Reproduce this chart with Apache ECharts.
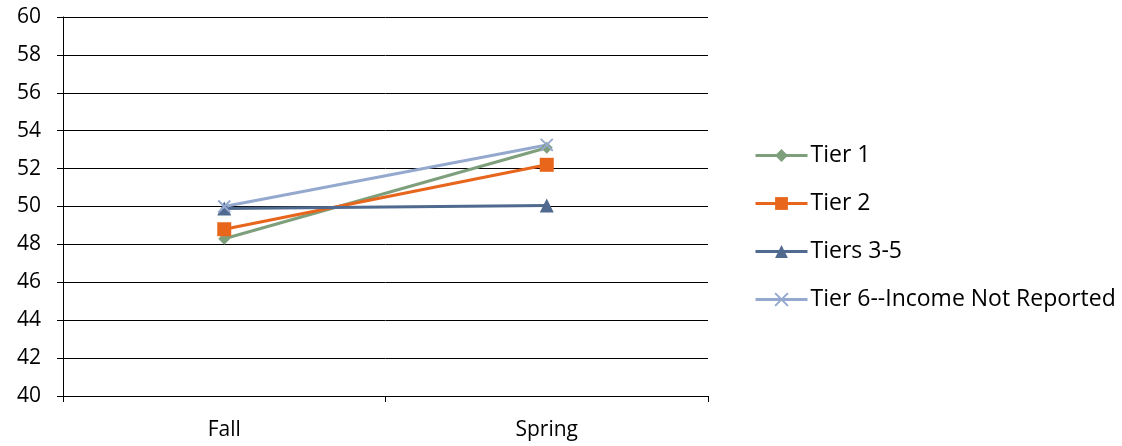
<!DOCTYPE html>
<html><head><meta charset="utf-8">
<script src="https://cdn.jsdelivr.net/npm/echarts@6/dist/echarts.min.js"></script>
<style>html,body{margin:0;padding:0;background:#fff}#c{width:1122px;height:446px}</style>
</head><body><div id="c"></div>
<script>
const categories = ['Fall', 'Spring'];
const seriesNames = ['Tier 1', 'Tier 2', 'Tiers 3-5', 'Tier 6--Income Not Reported'];
const tier1 = [48.3, 53.1];
const tier2 = [48.8, 52.2];
const tiers35 = [49.9, 50.05];
const tier6 = [50.0, 53.25];
const yTicks = [40, 42, 44, 46, 48, 50, 52, 54, 56, 58, 60];

const FONT = '"Open Sans", sans-serif';
const colors = ['#7E9F7C', '#E8661C', '#4F6A8E', '#95A9CF'];
const crossPath = 'path://M0,0L10,10M10,0L0,10';

const chart = echarts.init(document.getElementById('c'));
function mk(name, data, color, symbol, size, extra) {
  return Object.assign({
    name: name, type: 'line', data: data, symbol: symbol, symbolSize: size,
    showSymbol: true, animation: false,
    lineStyle: { color: color, width: 3 },
    itemStyle: { color: color },
    emphasis: { disabled: true }
  }, extra || {});
}
chart.setOption({
  animation: false,
  grid: { left: 63, right: 414, top: 17, bottom: 50, containLabel: false },
  legend: {
    orient: 'vertical', left: 749, top: 139,
    itemWidth: 52, itemHeight: 16, itemGap: 25,
    lineStyle: { width: 3 },
    textStyle: { fontFamily: FONT, fontSize: 23, color: '#000', padding: [0, 0, 0, -2] },
    data: seriesNames
  },
  xAxis: {
    type: 'category', data: categories, boundaryGap: true,
    axisLine: { lineStyle: { color: '#000', width: 1 } },
    axisTick: { show: true, length: 6, lineStyle: { color: '#000' }, alignWithLabel: false },
    axisLabel: { fontFamily: FONT, fontSize: 21, color: '#000', margin: 24 }
  },
  yAxis: {
    type: 'value', min: yTicks[0], max: yTicks[yTicks.length - 1], interval: 2,
    axisLine: { show: true, lineStyle: { color: '#000', width: 1 } },
    axisTick: { show: true, length: 6, lineStyle: { color: '#000' } },
    axisLabel: { fontFamily: FONT, fontSize: 21, color: '#000', margin: 22,
      formatter: v => yTicks.includes(v) ? String(v) : '' },
    splitLine: { show: true, lineStyle: { color: '#000', width: 1 } }
  },
  series: [
    mk(seriesNames[0], tier1, colors[0], 'diamond', 12),
    mk(seriesNames[1], tier2, colors[1], 'rect', 14),
    mk(seriesNames[2], tiers35, colors[2], 'triangle', 14),
    mk(seriesNames[3], tier6, colors[3], crossPath, 12,
      { itemStyle: { color: 'rgba(0,0,0,0)', borderColor: colors[3], borderWidth: 2 } })
  ]
});
</script></body></html>
